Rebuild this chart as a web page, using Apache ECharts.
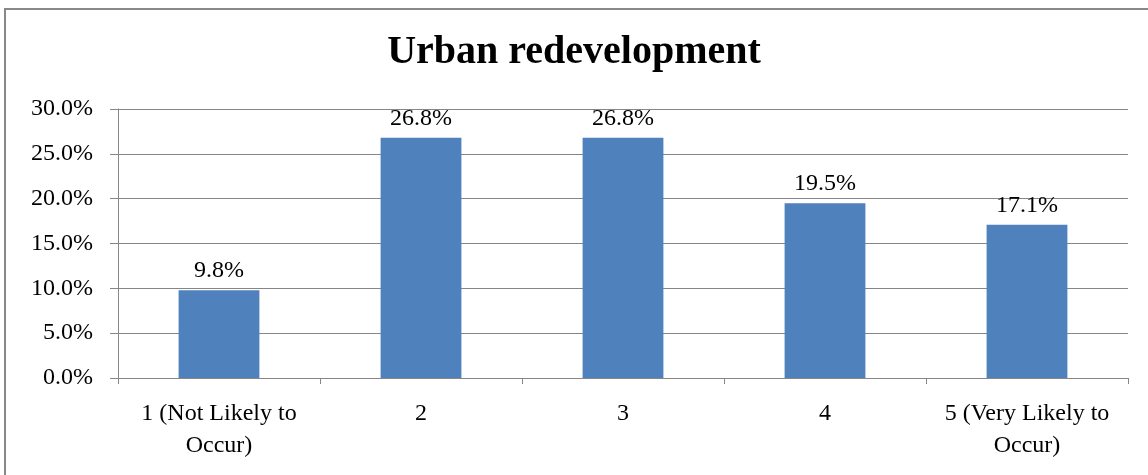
<!DOCTYPE html>
<html>
<head>
<meta charset="utf-8">
<script src="https://cdn.jsdelivr.net/npm/echarts@6/dist/echarts.min.js"></script>
<style>
html,body{margin:0;padding:0;background:#fff;}
#chart{width:1148px;height:475px;}
</style>
</head>
<body>
<div id="chart"></div>
<script>
const titleText = 'Urban redevelopment';
const categories = ['1 (Not Likely to\nOccur)', '2', '3', '4', '5 (Very Likely to\nOccur)'];
const values = [9.8, 26.8, 26.8, 19.5, 17.1];
const yMin = 0, yMax = 30, yStep = 5;

const FONT = '"Liberation Serif", "DejaVu Serif", serif';
const chart = echarts.init(document.getElementById('chart'), null, {renderer: 'canvas'});
chart.setOption({
  animation: false,
  backgroundColor: '#ffffff',
  title: {
    text: titleText,
    left: 'center',
    top: 28,
    textStyle: {fontFamily: FONT, fontWeight: 'bold', fontSize: 40, color: '#000'}
  },
  graphic: [{
    type: 'rect',
    shape: {x: 5, y: 9, width: 1200, height: 520},
    style: {fill: 'none', stroke: '#888888', lineWidth: 2},
    silent: true
  }],
  grid: {left: 118, right: 20, top: 109, bottom: 97, containLabel: false},
  xAxis: {
    type: 'category',
    data: categories,
    axisLine: {lineStyle: {color: '#868686', width: 1}},
    axisTick: {show: true, length: 6, lineStyle: {color: '#868686'}},
    axisLabel: {fontFamily: FONT, fontSize: 24, color: '#000', margin: 20, lineHeight: 32, interval: 0}
  },
  yAxis: {
    type: 'value',
    min: yMin, max: yMax, interval: yStep,
    axisLine: {show: true, lineStyle: {color: '#868686', width: 1}},
    axisTick: {show: true, length: 8, lineStyle: {color: '#868686'}},
    splitLine: {show: true, lineStyle: {color: '#868686', width: 1}},
    axisLabel: {fontFamily: FONT, fontSize: 24, color: '#000', margin: 25,
      formatter: v => v.toFixed(1) + '%'}
  },
  series: [{
    type: 'bar',
    data: values,
    barWidth: '40%',
    itemStyle: {color: '#4F81BD'},
    label: {
      show: true, position: 'top', distance: 7,
      fontFamily: FONT, fontSize: 24, color: '#000',
      formatter: p => p.value.toFixed(1) + '%'
    }
  }]
});
</script>
</body>
</html>
